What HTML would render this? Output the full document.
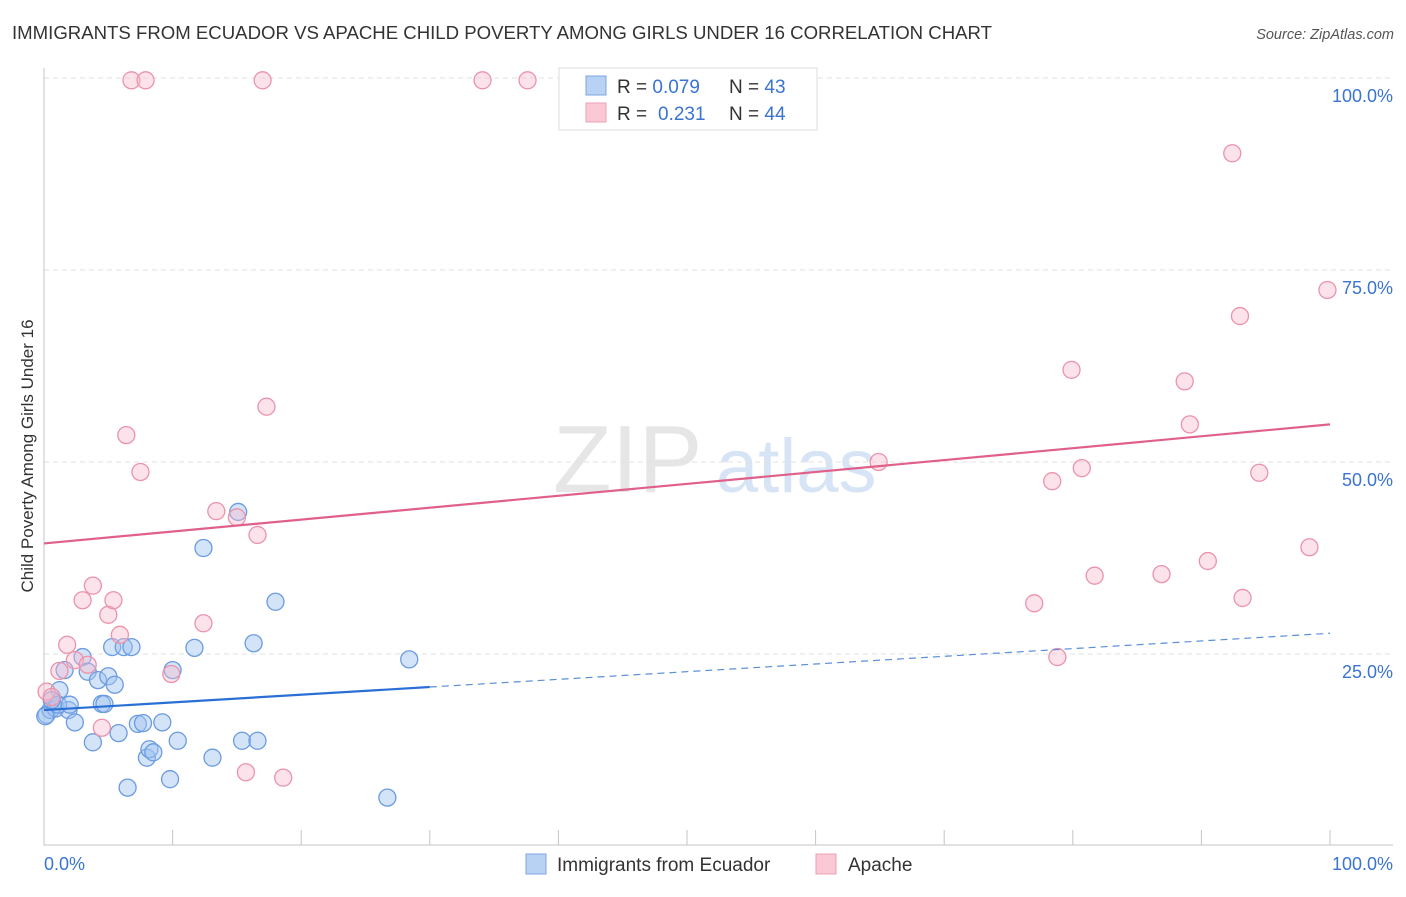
<!DOCTYPE html>
<html><head><meta charset="utf-8"><style>
body{margin:0;background:#fff;font-family:"Liberation Sans",sans-serif}
svg text{font-family:"Liberation Sans",sans-serif}
</style></head><body>
<svg id="c" width="1406" height="892">
<text x="12" y="39" font-size="18.5" fill="#333" textLength="980" lengthAdjust="spacingAndGlyphs">IMMIGRANTS FROM ECUADOR VS APACHE CHILD POVERTY AMONG GIRLS UNDER 16 CORRELATION CHART</text>
<text x="1394" y="39" font-size="14.5" fill="#555" text-anchor="end" font-style="italic">Source: ZipAtlas.com</text>
<text x="0" y="0" transform="translate(33,456) rotate(-90)" font-size="17" fill="#333" text-anchor="middle">Child Poverty Among Girls Under 16</text>
<g><text x="553" y="492" font-size="96" fill="#e6e6e6" font-family="Liberation Serif,serif">ZIP</text><text x="716" y="492" font-size="76" fill="#d6e4f5">atlas</text></g>
<g id="grid"></g><g id="axes"></g><g id="pts"></g><g id="trend"></g>
<g>
<rect x="559" y="68" width="258" height="62" fill="#fff" stroke="#ddd"/>
<rect x="586" y="76" width="20" height="19" fill="#b8d2f4" stroke="#7ea7e0"/>
<rect x="586" y="103" width="20" height="19" fill="#fbc9d6" stroke="#eba0b4"/>
<text x="617" y="93" font-size="19" fill="#333">R = <tspan fill="#3a74d0">0.079</tspan><tspan x="729">N = </tspan><tspan fill="#3a74d0">43</tspan></text>
<text x="617" y="120" font-size="19" fill="#333">R = <tspan x="658" fill="#3a74d0">0.231</tspan><tspan x="729">N = </tspan><tspan fill="#3a74d0">44</tspan></text>
</g>
<g>
<rect x="526" y="854" width="20" height="20" fill="#b8d2f4" stroke="#7ea7e0"/>
<text x="557" y="871" font-size="19" fill="#333">Immigrants from Ecuador</text>
<rect x="816" y="854" width="20" height="20" fill="#fbc9d6" stroke="#eba0b4"/>
<text x="848" y="871" font-size="19" fill="#333">Apache</text>
</g>
</svg>
<script>
const yTicks=[25,50,75,100];
const yTickLabels=["25.0%","50.0%","75.0%","100.0%"];
const xTickCount=10;
const blueX=[0.2,0.5,0.9,1.2,1.6,1.9,2.4,3.0,3.4,3.8,4.2,4.5,5.0,5.3,5.5,5.8,6.2,6.5,6.8,7.3,7.7,8.0,8.2,8.5,9.2,9.8,10.0,10.4,11.7,12.4,13.1,15.1,15.4,16.3,16.6,18.0,26.7,28.4,0.1,1.1,2.0,4.7,0.6];
const blueY=[17.1,17.7,17.9,20.3,22.9,17.7,16.1,24.6,22.7,13.5,21.6,18.5,22.1,25.9,21.0,14.7,25.9,7.6,25.9,15.9,16.0,11.5,12.6,12.2,16.1,8.7,22.9,13.7,25.8,38.8,11.5,43.5,13.7,26.4,13.7,31.8,6.3,24.3,16.9,18.4,18.4,18.5,19.0];
const pinkX=[0.2,0.6,1.2,1.8,2.4,3.0,3.4,3.8,4.5,5.0,5.4,5.9,6.4,6.8,7.5,7.9,9.9,12.4,13.4,15.0,16.6,17.0,17.3,15.7,18.6,34.1,37.6,64.9,77.0,78.4,78.8,79.9,80.7,81.7,86.9,88.7,89.1,90.5,92.4,93.0,93.2,94.5,98.4,99.8];
const pinkY=[20.1,19.4,22.8,26.2,24.2,32.0,23.6,33.9,15.4,30.1,32.0,27.5,53.5,99.7,48.7,99.7,22.4,29.0,43.6,42.8,40.5,99.7,57.2,9.6,8.9,99.7,99.7,50.0,31.6,47.5,24.6,62.0,49.2,35.2,35.4,60.5,54.9,37.1,90.2,69.0,32.3,48.6,38.9,72.4];
const blueTrend=[17.7,27.7]; const blueSolidEnd=30;
const pinkTrend=[39.4,54.9];
const X=v=>44+v*12.86, Y=v=>846-v*7.68;
const NS="http://www.w3.org/2000/svg";
function mk(p,t,a){const e=document.createElementNS(NS,t);for(const k in a)e.setAttribute(k,a[k]);document.getElementById(p).appendChild(e);return e;}
yTicks.forEach((t,i)=>{
 const g=mk('grid','line',{x1:44,x2:1393,y1:Y(t),y2:Y(t),stroke:'#e2e2e2','stroke-dasharray':'5,4'});
 
 
 const l=mk('axes','text',{x:1393,y:Y(t)+24,'font-size':18,fill:'#3a74d0','text-anchor':'end'});l.textContent=yTickLabels[i];
 
 
});
const ax=mk('axes','path',{d:'M44,68V845H1393',stroke:'#c4c4c4',fill:'none'});


for(let i=1;i<=xTickCount;i++){const t=mk('axes','line',{x1:X(i*10),x2:X(i*10),y1:830,y2:845,stroke:'#c4c4c4'});
 
 }
const x0=mk('axes','text',{x:44,y:870,'font-size':18,fill:'#3a74d0'});x0.textContent='0.0%';


const x1=mk('axes','text',{x:1393,y:870,'font-size':18,fill:'#3a74d0','text-anchor':'end'});x1.textContent='100.0%';


blueX.forEach((v,i)=>{const c=mk('pts','circle',{cx:X(v),cy:Y(blueY[i]),r:8.5,fill:'rgba(160,196,240,0.45)',stroke:'#6b9be0','stroke-width':1.3});
 
 });
pinkX.forEach((v,i)=>{const c=mk('pts','circle',{cx:X(v),cy:Y(pinkY[i]),r:8.5,fill:'rgba(248,185,205,0.4)',stroke:'#eb93ab','stroke-width':1.3});
 
 });
const by=x=>blueTrend[0]+(blueTrend[1]-blueTrend[0])*x/100;
const t1=mk('trend','line',{x1:X(0),y1:Y(by(0)),x2:X(blueSolidEnd),y2:Y(by(blueSolidEnd)),stroke:'#2a6fd6','stroke-width':2.2});


const t2=mk('trend','line',{x1:X(blueSolidEnd),y1:Y(by(blueSolidEnd)),x2:X(100),y2:Y(by(100)),stroke:'#5b8fd8','stroke-width':1.2,'stroke-dasharray':'7,5'});


const t3=mk('trend','line',{x1:X(0),y1:Y(pinkTrend[0]),x2:X(100),y2:Y(pinkTrend[1]),stroke:'#e0608a','stroke-width':2.2});


</script>
</body></html>
